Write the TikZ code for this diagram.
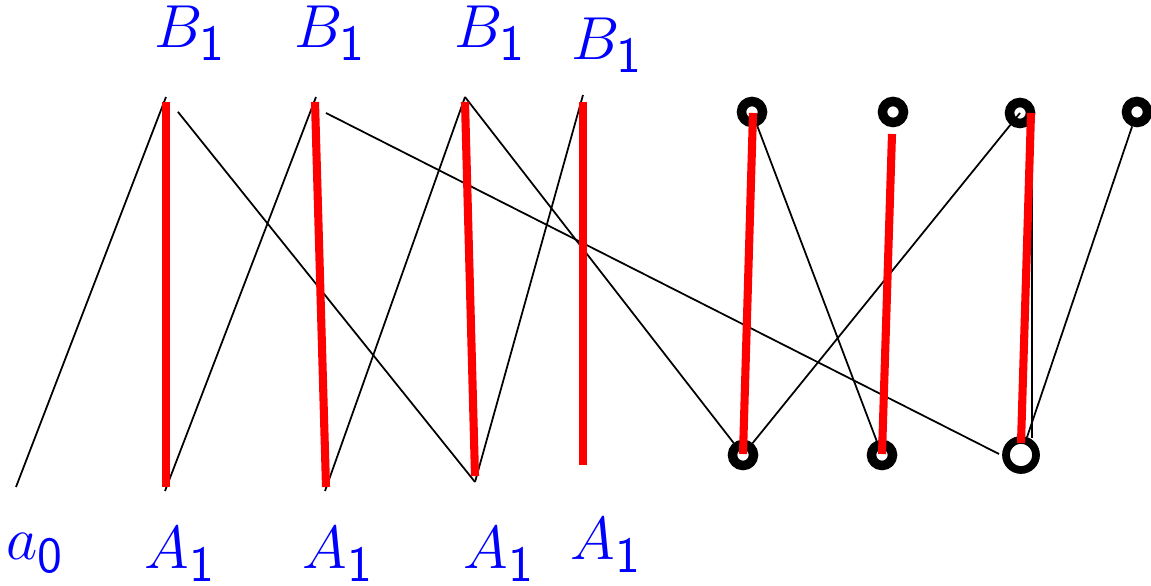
\documentclass[tikz,border=0pt]{standalone}
\DeclareMathSizes{16.5}{16.5}{14.5}{10}
\begin{document}
\begin{tikzpicture}[x=0.01cm,y=-0.01cm,
  lab/.style={text=blue,anchor=base,inner sep=0pt,font=\fontsize{16.5}{19}\selectfont},
  thin/.style={draw=black,line width=0.5pt},
  redl/.style={draw=red,line width=2.3pt},
  dotc/.style={circle,draw=black,line width=2.7pt,minimum size=0.21cm,inner sep=0pt},
  bigc/.style={circle,draw=black,line width=2.2pt,minimum size=0.30cm,inner sep=0pt}]
\useasboundingbox (0,0) rectangle (1151,586);
% points of the left group
\coordinate (a0) at (16,487);
\coordinate (A1a) at (165,491);
\coordinate (A1b) at (325,491);
\coordinate (A1c) at (475,482);
\coordinate (B1a) at (166,97);
\coordinate (B1b) at (316,97);
\coordinate (B1c) at (465,97);
\coordinate (B1d) at (583,95);
\coordinate (ls) at (326,113);
\coordinate (le) at (999,454);
\coordinate (vs) at (1032,113);
\coordinate (ve) at (1032,438);
% red end points
\coordinate (r1t) at (166,102); \coordinate (r1b) at (166,487);
\coordinate (r2t) at (315,102); \coordinate (r2b) at (326,487);
\coordinate (r3t) at (465,102); \coordinate (r3b) at (475,476);
\coordinate (r4t) at (583,102); \coordinate (r4b) at (583,465);
\coordinate (r5t) at (753,113); \coordinate (r5b) at (743,454);
\coordinate (r6t) at (892,134); \coordinate (r6b) at (882,454);
\coordinate (r7t) at (1031,113); \coordinate (r7b) at (1021,443);
% labels
\node[lab] (lB1) at (190,48) {$B_{\mathsf{1}}$};
\node[lab] (lB2) at (330,48) {$B_{\mathsf{1}}$};
\node[lab] (lB3) at (490,48) {$B_{\mathsf{1}}$};
\node[lab] (lB4) at (607,60) {$B_{\mathsf{1}}$};
\node[lab] (la0) at (35,560) {$a_{\mathsf{0}}$};
\node[lab] (lA1) at (180,569) {$A_{\mathsf{1}}$};
\node[lab] (lA2) at (338,569) {$A_{\mathsf{1}}$};
\node[lab] (lA3) at (499,569) {$A_{\mathsf{1}}$};
\node[lab] (lA4) at (606,560) {$A_{\mathsf{1}}$};
% circles
\node[dotc] (t1) at (752,112) {};
\node[dotc] (t2) at (893,112) {};
\node[dotc] (t3) at (1020,113) {};
\node[dotc] (t4) at (1137,112) {};
\node[dotc] (d1) at (743,455) {};
\node[dotc] (d2) at (882,455) {};
\node[bigc] (d3) at (1021,455) {};
% black connectors
\draw[thin] (a0) -- (B1a);
\draw[thin,shorten <=0.19cm] (B1a) -- (A1c);
\draw[thin] (A1a) -- (B1b);
\draw[thin] (ls) -- (le);
\draw[thin] (A1b) -- (B1c);
\draw[thin] (B1c) -- (d1);
\draw[thin] (A1c) -- (B1d);
\draw[thin] (t1) -- (d2);
\draw[thin] (d1) -- (t3.center);
\draw[thin] (d3) -- (t4);
\draw[thin] (vs) -- (ve);
% red bars
\draw[redl] (r1t) -- (r1b);
\draw[redl] (r2t) -- (r2b);
\draw[redl] (r3t) -- (r3b);
\draw[redl] (r4t) -- (r4b);
\draw[redl] (r5t) -- (r5b);
\draw[redl] (r6t) -- (r6b);
\draw[redl] (r7t) -- (r7b);
\end{tikzpicture}
\end{document}
